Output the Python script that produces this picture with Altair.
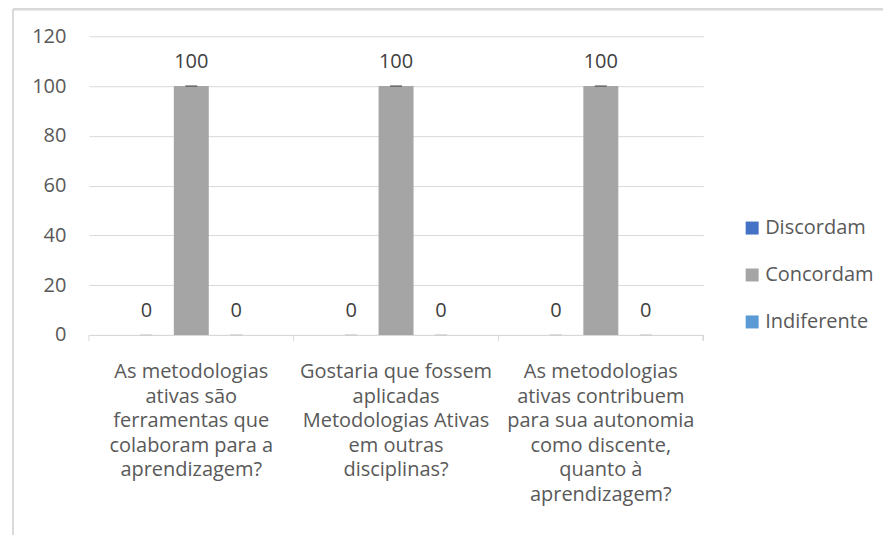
import altair as alt
import pandas as pd

categories = [
    "As metodologias|ativas são|ferramentas que|colaboram para a|aprendizagem?",
    "Gostaria que fossem|aplicadas|Metodologias Ativas|em outras|disciplinas?",
    "As metodologias|ativas contribuem|para sua autonomia|como discente,|quanto à|aprendizagem?",
]
series = ["Discordam", "Concordam", "Indiferente"]
discordam = [0, 0, 0]
concordam = [100, 100, 100]
indiferente = [0, 0, 0]
colors = ["#4472C4", "#A5A5A5", "#5B9BD5"]
y_ticks = [0, 20, 40, 60, 80, 100, 120]

rows = []
for i, c in enumerate(categories):
    for s, vals in zip(series, [discordam, concordam, indiferente]):
        rows.append({"cat": c, "series": s, "value": vals[i]})
df = pd.DataFrame(rows)
cat_df = pd.DataFrame({"cat": categories})

FONT = "Open Sans"
FS = 20
TXT = "#595959"
GRID = "#d9d9d9"

x_enc = alt.X("cat:N", sort=categories, title=None,
              scale=alt.Scale(paddingInner=0, paddingOuter=0),
              axis=alt.Axis(labelExpr="split(datum.label, '|')", labelAngle=0,
                            labelFont=FONT, labelFontSize=FS, labelColor=TXT,
                            labelLineHeight=24.5, labelPadding=27, labelLimit=400,
                            domainColor=GRID, domainWidth=1, ticks=False, grid=False))
xo_enc = alt.XOffset("series:N", sort=series,
                     scale=alt.Scale(paddingInner=0.2222, paddingOuter=0.8889))
y_enc = alt.Y("value:Q", title=None,
              scale=alt.Scale(domain=[0, 120], nice=False),
              axis=alt.Axis(values=y_ticks, domain=False, ticks=False,
                            gridColor=GRID, gridWidth=1, labelFont=FONT, labelFontSize=FS,
                            labelColor=TXT, labelPadding=23))

base = alt.Chart(df)

bars = base.mark_bar().encode(
    x=x_enc, xOffset=xo_enc, y=y_enc,
    color=alt.Color("series:N", sort=series,
                    scale=alt.Scale(domain=series, range=colors),
                    legend=alt.Legend(title=None, orient="none", legendX=654, legendY=182,
                                      symbolType="square", symbolSize=169,
                                      symbolStrokeWidth=0,
                                      labelFont=FONT, labelFontSize=FS, labelColor=TXT,
                                      rowPadding=27, labelOffset=3)),
)

caps = base.mark_tick(size=12, thickness=1.5).encode(
    x=alt.X("cat:N", sort=categories), xOffset=xo_enc,
    y=alt.Y("value:Q"),
    color=alt.condition("datum.value > 0", alt.value("#404040"), alt.value("#c8c8c8")),
)

labels = base.mark_text(dy=-24, baseline="middle", font=FONT, fontSize=FS,
                        color="#404040").encode(
    x=alt.X("cat:N", sort=categories), xOffset=xo_enc,
    y=alt.Y("value:Q"),
    text=alt.Text("value:Q"),
)

cat_ticks = alt.Chart(cat_df).mark_rule(color=GRID, strokeWidth=1).encode(
    x=alt.X("cat:N", sort=categories, bandPosition=0),
    y=alt.value(299), y2=alt.value(305),
)
end_tick = alt.Chart(cat_df).mark_rule(color=GRID, strokeWidth=1).encode(
    x=alt.value(615), y=alt.value(299), y2=alt.value(305),
)

frame_left = alt.Chart(cat_df).mark_rule(color=GRID, strokeWidth=2).encode(
    x=alt.value(-76), y=alt.value(-27), y2=alt.value(520),
)
frame_top = alt.Chart(cat_df).mark_rule(color=GRID, strokeWidth=2).encode(
    x=alt.value(-76), x2=alt.value(810), y=alt.value(-27),
)

chart = alt.layer(bars, caps, labels, cat_ticks, end_tick, frame_left, frame_top).properties(
    width=615, height=299,
    background="white",
    autosize=alt.AutoSizeParams(type="none"),
    padding={"left": 81, "top": 28, "right": 180, "bottom": 200},
).configure_view(stroke="transparent", strokeWidth=0)

chart.save("out.html", embed_options={"renderer": "svg", "actions": False})
